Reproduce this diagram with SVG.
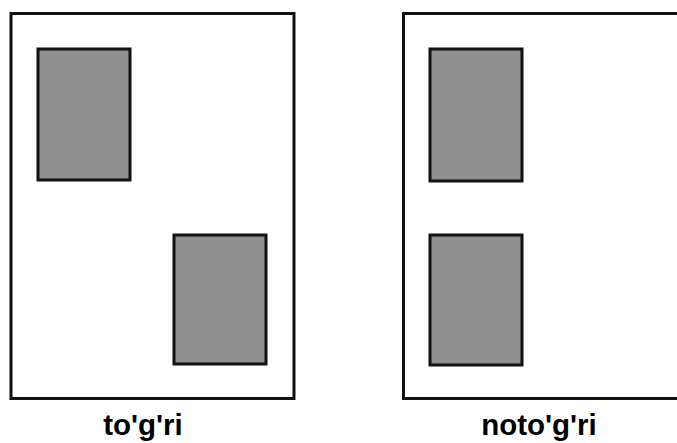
<svg xmlns="http://www.w3.org/2000/svg" width="677" height="443" viewBox="0 0 677 443">
  <style>
    .frame { fill: #ffffff; stroke: #111111; stroke-width: 3; }
    .block { fill: #8e8e8e; stroke: #111111; stroke-width: 3; }
    .label { font-family: "Liberation Sans", Arial, sans-serif; font-weight: bold; font-size: 29.5px; fill: #000000; text-anchor: middle; }
  </style>
  <rect width="677" height="443" fill="#ffffff"/>

  <!-- left panel: blocks offset diagonally -->
  <g id="panel-left">
    <rect class="frame" x="11" y="13.5" width="283" height="385"/>
    <rect class="block" x="38" y="49" width="92" height="131"/>
    <rect class="block" x="174" y="235" width="92" height="129"/>
    <text class="label" x="143" y="435">to'g'ri</text>
  </g>

  <!-- right panel: blocks stacked in one column -->
  <g id="panel-right">
    <rect class="frame" x="403.5" y="13.5" width="290" height="385"/>
    <rect class="block" x="430" y="49" width="92" height="132"/>
    <rect class="block" x="430" y="235" width="92" height="130"/>
    <text class="label" x="539" y="435">noto'g'ri</text>
  </g>

  <g id="connectors"/>
</svg>
